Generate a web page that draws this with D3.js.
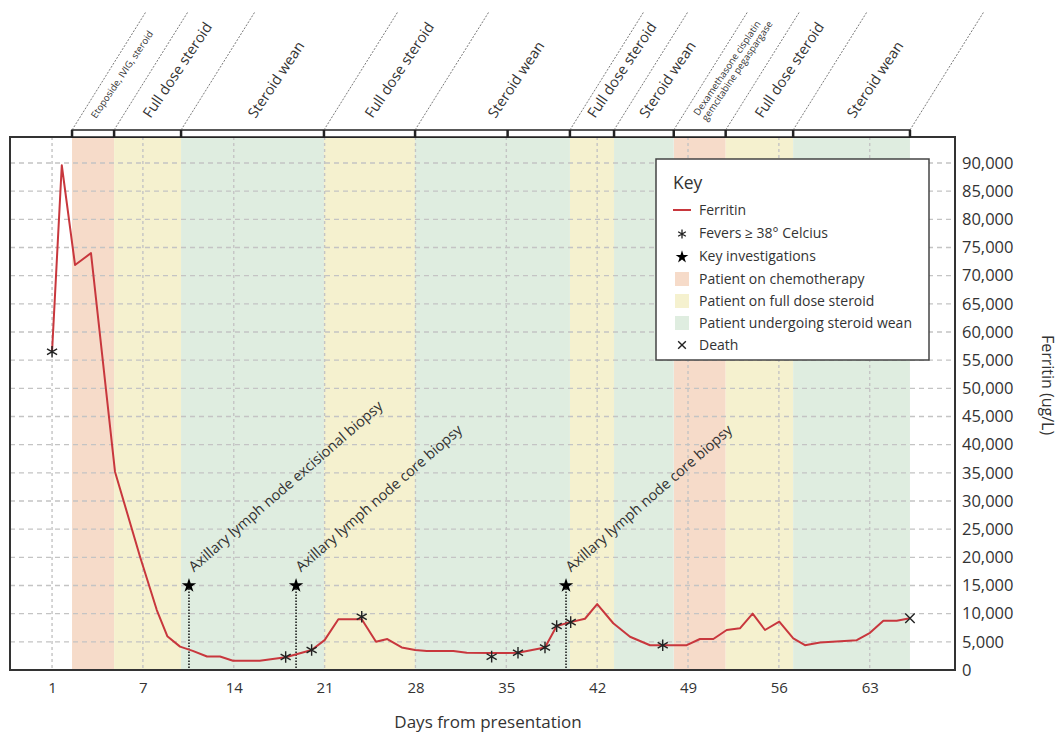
<!DOCTYPE html>
<html>
<head>
<meta charset="utf-8">
<script src="https://cdn.jsdelivr.net/npm/d3@7"></script>
<style>
  body { margin: 0; background: #fff; }
  svg { display: block; font-family: 'Open Sans', sans-serif; }
</style>
</head>
<body>
<div id="chart"></div>
<script>
// ferritin curve (day position, ug/L)
var ferritinDays = [0, 0.75, 1.77, 3.0, 4.85, 6.78, 8.07, 8.88, 9.86, 10.84, 11.94, 12.94, 13.94, 16.0,
  18.0, 18.9, 20.0, 21.0, 22.06, 23.86, 24.96, 25.83, 26.94, 27.97, 28.87, 30.92, 31.95, 33.87, 35.0,
  35.9, 37.98, 38.88, 39.96, 41.06, 42.0, 43.24, 44.53, 46.07, 47.05, 48.9, 49.92, 50.95, 51.98, 53.0,
  53.98, 54.93, 56.03, 57.11, 58.01, 59.17, 62.0, 63.02, 64.05, 65.08, 66.1];
var ferritinValues = [56500, 89600, 71900, 74000, 35200, 20100, 10650, 6000, 4150, 3400, 2400, 2400, 1650, 1650,
  2250, 2850, 3550, 5300, 9000, 9000, 5000, 5500, 4000, 3550, 3370, 3370, 3070, 3000, 3000,
  3070, 4000, 7800, 8500, 9100, 11700, 8300, 5900, 4400, 4400, 4400, 5500, 5500, 7100, 7400,
  10000, 7100, 8600, 5600, 4400, 4900, 5300, 6600, 8750, 8750, 9200];

var feverDays = [0, 18.0, 20.0, 23.86, 33.87, 35.9, 37.98, 38.88, 39.96, 47.05];
var feverValues = [56500, 2300, 3550, 9450, 2370, 3070, 4000, 7800, 8500, 4400];

var deathDays = [66.1];
var deathValues = [9200];

var investigationDays = [10.55, 18.8, 39.6];
var investigationValues = [15000, 15000, 15000];
var investigationLabels = ['Axillary lymph node excisional biopsy', 'Axillary lymph node core biopsy',
  'Axillary lymph node core biopsy'];

// shaded treatment periods (start day, end day)
var chemoPeriods = [[1.54, 4.78], [47.9, 51.9]];
var steroidPeriods = [[4.78, 9.94], [20.95, 27.97], [39.9, 43.3], [51.9, 57.1]];
var weanPeriods = [[9.94, 20.95], [27.97, 39.9], [43.3, 47.9], [57.1, 66.1]];

// top bracket
var phaseBounds = [1.54, 4.78, 9.94, 20.95, 27.97, 39.9, 43.3, 47.9, 51.9, 57.1, 66.1];
var phaseLabels = [['Etoposide, IVIG, steroid'], ['Full dose steroid'], ['Steroid wean'], ['Full dose steroid'],
  ['Steroid wean'], ['Full dose steroid'], ['Steroid wean'],
  ['Dexamethasone cisplatin', 'gemcitabine pegaspargase'], ['Full dose steroid'], ['Steroid wean']];
var extraDividers = [35.1];

var xTickDays = [0, 7, 14, 21, 28, 35, 42, 49, 56, 63];
var xTickLabels = ['1', '7', '14', '21', '28', '35', '42', '49', '56', '63'];
var yTicks = [0, 5000, 10000, 15000, 20000, 25000, 30000, 35000, 40000, 45000, 50000, 55000,
  60000, 65000, 70000, 75000, 80000, 85000, 90000];

var legendLabels = ['Ferritin', 'Fevers \u2265 38\u00b0 Celcius', 'Key investigations', 'Patient on chemotherapy',
  'Patient on full dose steroid', 'Patient undergoing steroid wean', 'Death'];

(function() {
  'use strict';
  var width = 1060,
    height = 734,
    plotLeft = 10,
    plotRight = 955,
    plotTop = 137,
    plotBottom = 670;

  var colors = {
    chemo: '#f6dbc9',
    steroid: '#f5f1cf',
    wean: '#dfede0',
    line: '#c8373d',
    grid: '#c4c4c4',
    text: '#333'
  };

  var x = d3.scaleLinear().domain([-3.24, 69.57]).range([plotLeft, plotRight]);
  var y = d3.scaleLinear().domain([0, 94615]).range([plotBottom, plotTop]);

  var svg = d3.select('#chart')
    .append('svg')
    .attr('width', width)
    .attr('height', height);

  // bands
  function drawBands(periods, color) {
    svg.append('g')
      .selectAll('rect')
      .data(periods)
      .enter()
      .append('rect')
      .attr('x', function(d) { return x(d[0]); })
      .attr('width', function(d) { return x(d[1]) - x(d[0]); })
      .attr('y', plotTop)
      .attr('height', plotBottom - plotTop)
      .attr('fill', color);
  }
  drawBands(chemoPeriods, colors.chemo);
  drawBands(steroidPeriods, colors.steroid);
  drawBands(weanPeriods, colors.wean);

  // grid
  svg.append('g')
    .selectAll('line')
    .data(yTicks.filter(function(d) { return d > 0; }))
    .enter()
    .append('line')
    .attr('x1', plotLeft)
    .attr('x2', plotRight)
    .attr('y1', function(d) { return y(d); })
    .attr('y2', function(d) { return y(d); })
    .attr('stroke', colors.grid)
    .attr('stroke-width', 1.4)
    .attr('stroke-dasharray', '5,4');

  svg.append('g')
    .selectAll('line')
    .data(xTickDays)
    .enter()
    .append('line')
    .attr('x1', function(d) { return x(d); })
    .attr('x2', function(d) { return x(d); })
    .attr('y1', plotTop)
    .attr('y2', plotBottom)
    .attr('stroke', colors.grid)
    .attr('stroke-width', 1.4)
    .attr('stroke-dasharray', '3,3');

  // investigations
  svg.append('g')
    .selectAll('line')
    .data(investigationDays)
    .enter()
    .append('line')
    .attr('x1', function(d) { return x(d); })
    .attr('x2', function(d) { return x(d); })
    .attr('y1', function(d, i) { return y(investigationValues[i]); })
    .attr('y2', plotBottom)
    .attr('stroke', '#111')
    .attr('stroke-width', 1.5)
    .attr('stroke-dasharray', '1.5,1.5');

  svg.append('g')
    .selectAll('text')
    .data(investigationLabels)
    .enter()
    .append('text')
    .attr('transform', function(d, i) {
      return 'translate(' + (x(investigationDays[i]) + 5) + ',' + (y(investigationValues[i]) - 13) + ') rotate(-41)';
    })
    .attr('fill', colors.text)
    .style('font-size', '14.5px')
    .text(function(d) { return d; });

  // ferritin line
  var line = d3.line()
    .x(function(d) { return x(d[0]); })
    .y(function(d) { return y(d[1]); });

  svg.append('path')
    .datum(d3.zip(ferritinDays, ferritinValues))
    .attr('d', line)
    .attr('fill', 'none')
    .attr('stroke', colors.line)
    .attr('stroke-width', 2)
    .attr('stroke-linejoin', 'round');

  // markers
  var asterisk = d3.symbol().type(d3.symbolAsterisk).size(95);
  var star = d3.symbol().type(d3.symbolStar).size(65);
  var times = d3.symbol().type(d3.symbolTimes).size(60);

  svg.append('g')
    .selectAll('path')
    .data(feverDays)
    .enter()
    .append('path')
    .attr('d', asterisk)
    .attr('transform', function(d, i) { return 'translate(' + x(d) + ',' + y(feverValues[i]) + ')'; })
    .attr('fill', 'none')
    .attr('stroke', '#222')
    .attr('stroke-width', 1.4);

  svg.append('g')
    .selectAll('path')
    .data(investigationDays)
    .enter()
    .append('path')
    .attr('d', star)
    .attr('transform', function(d, i) { return 'translate(' + x(d) + ',' + y(investigationValues[i]) + ')'; })
    .attr('fill', '#000');

  svg.append('g')
    .selectAll('path')
    .data(deathDays)
    .enter()
    .append('path')
    .attr('d', times)
    .attr('transform', function(d, i) { return 'translate(' + x(d) + ',' + y(deathValues[i]) + ')'; })
    .attr('fill', 'none')
    .attr('stroke', '#222')
    .attr('stroke-width', 1.4);

  // frame
  svg.append('rect')
    .attr('x', plotLeft)
    .attr('y', plotTop)
    .attr('width', plotRight - plotLeft)
    .attr('height', plotBottom - plotTop)
    .attr('fill', 'none')
    .attr('stroke', '#333')
    .attr('stroke-width', 2);

  // top bracket with phase labels
  var barTop = 130;
  var diagTop = 12;
  var slope = Math.tan(58 * Math.PI / 180);

  svg.append('rect')
    .attr('x', x(phaseBounds[0]))
    .attr('y', barTop)
    .attr('width', x(phaseBounds[phaseBounds.length - 1]) - x(phaseBounds[0]))
    .attr('height', plotTop - barTop)
    .attr('fill', '#fff')
    .attr('stroke', '#222')
    .attr('stroke-width', 1.5);

  svg.append('g')
    .selectAll('line')
    .data(phaseBounds.concat(extraDividers))
    .enter()
    .append('line')
    .attr('x1', function(d) { return x(d); })
    .attr('x2', function(d) { return x(d); })
    .attr('y1', barTop)
    .attr('y2', plotTop)
    .attr('stroke', '#222')
    .attr('stroke-width', 2.5);

  svg.append('g')
    .selectAll('line')
    .data(phaseBounds)
    .enter()
    .append('line')
    .attr('x1', function(d) { return x(d); })
    .attr('y1', barTop)
    .attr('x2', function(d) { return x(d) + (barTop - diagTop) / slope; })
    .attr('y2', diagTop)
    .attr('stroke', '#555')
    .attr('stroke-width', 0.8)
    .attr('stroke-dasharray', '2,1.5');

  var phaseText = svg.append('g')
    .selectAll('text')
    .data(phaseLabels)
    .enter()
    .append('text')
    .attr('transform', function(d, i) {
      var cx = (x(phaseBounds[i]) + x(phaseBounds[i + 1])) / 2;
      return 'translate(' + (cx + 3) + ',119) rotate(-56)';
    })
    .attr('fill', colors.text)
    .style('font-size', function(d) { return d[0].length > 18 ? '9.5px' : '14.5px'; });

  phaseText.selectAll('tspan')
    .data(function(d) { return d; })
    .enter()
    .append('tspan')
    .attr('x', 0)
    .attr('y', function(d, i, nodes) { return (i - (nodes.length - 1) / 2) * 10; })
    .text(function(d) { return d; });

  // axes
  var xAxis = svg.append('g')
    .attr('transform', 'translate(0,' + plotBottom + ')')
    .call(d3.axisBottom(x)
      .tickValues(xTickDays)
      .tickSize(0)
      .tickPadding(12)
      .tickFormat(function(d, i) { return xTickLabels[i]; }));
  xAxis.select('.domain').remove();
  xAxis.selectAll('text')
    .attr('fill', colors.text)
    .style('font-size', '15px')
    .style('font-family', "'Open Sans', sans-serif");

  var yAxis = svg.append('g')
    .attr('transform', 'translate(' + plotRight + ',0)')
    .call(d3.axisRight(y)
      .tickValues(yTicks)
      .tickSize(0)
      .tickPadding(7)
      .tickFormat(d3.format(',')));
  yAxis.select('.domain').remove();
  yAxis.selectAll('text')
    .attr('fill', colors.text)
    .style('font-size', '16.5px')
    .style('font-family', "'Open Sans', sans-serif");

  svg.append('text')
    .attr('x', 488)
    .attr('y', 728)
    .attr('text-anchor', 'middle')
    .attr('fill', colors.text)
    .style('font-size', '17px')
    .text('Days from presentation');

  svg.append('text')
    .attr('transform', 'translate(1042,385) rotate(90)')
    .attr('text-anchor', 'middle')
    .attr('fill', colors.text)
    .style('font-size', '16px')
    .text('Ferritin (ug/L)');

  // key
  var key = svg.append('g').attr('transform', 'translate(656,159)');
  key.append('rect')
    .attr('width', 273)
    .attr('height', 201)
    .attr('fill', '#fff')
    .attr('stroke', '#444')
    .attr('stroke-width', 1.5);
  key.append('text')
    .attr('x', 17)
    .attr('y', 30)
    .attr('fill', colors.text)
    .style('font-size', '17.5px')
    .text('Key');

  var rowY = [51, 74, 97, 120, 142, 164, 186];
  var items = key.selectAll('.item')
    .data(legendLabels)
    .enter()
    .append('g')
    .attr('class', 'item')
    .attr('transform', function(d, i) { return 'translate(0,' + rowY[i] + ')'; });

  items.append('text')
    .attr('x', 43)
    .attr('y', 5)
    .attr('fill', colors.text)
    .style('font-size', '14px')
    .text(function(d) { return d; });

  var smallAsterisk = d3.symbol().type(d3.symbolAsterisk).size(55);
  var smallStar = d3.symbol().type(d3.symbolStar).size(50);
  var smallTimes = d3.symbol().type(d3.symbolTimes).size(40);

  items.each(function(d, i) {
    var g = d3.select(this);
    if (i === 0) {
      g.append('line').attr('x1', 17).attr('x2', 35).attr('y1', 0).attr('y2', 0)
        .attr('stroke', colors.line).attr('stroke-width', 2);
    } else if (i === 1) {
      g.append('path').attr('d', smallAsterisk).attr('transform', 'translate(26,1)')
        .attr('fill', 'none').attr('stroke', '#222').attr('stroke-width', 1.3);
    } else if (i === 2) {
      g.append('path').attr('d', smallStar).attr('transform', 'translate(26,1)').attr('fill', '#000');
    } else if (i === 6) {
      g.append('path').attr('d', smallTimes).attr('transform', 'translate(26,0)')
        .attr('fill', 'none').attr('stroke', '#222').attr('stroke-width', 1.4);
    } else {
      var c = [colors.chemo, colors.steroid, colors.wean][i - 3];
      g.append('rect').attr('x', 19).attr('y', -7).attr('width', 14).attr('height', 14).attr('fill', c);
    }
  });
})();
</script>
</body>
</html>
